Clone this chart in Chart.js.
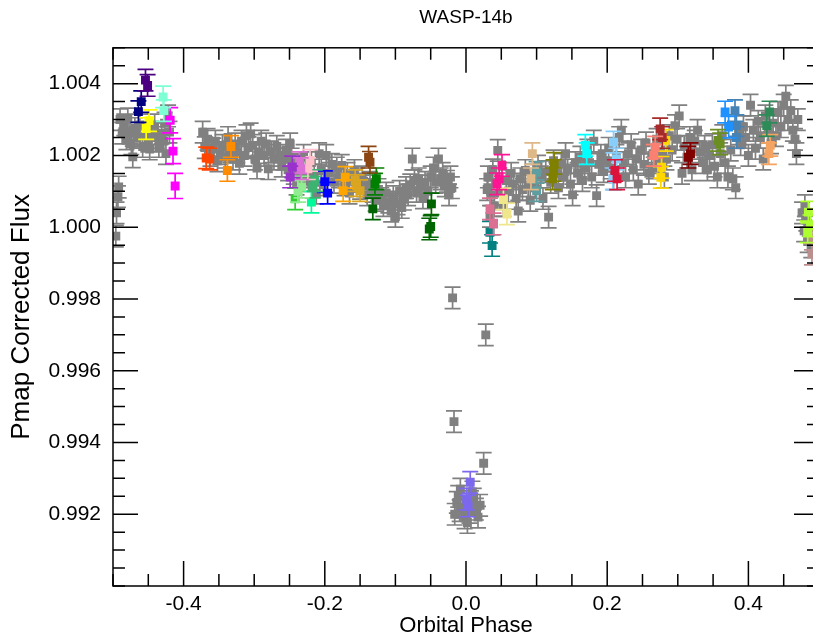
<!DOCTYPE html>
<html lang="en">
<head>
  <meta charset="UTF-8" />
  <title>WASP-14b</title>
  <script src="https://cdn.jsdelivr.net/npm/chart.js"></script>
  <style>
    html, body { margin: 0; padding: 0; background: #fff; overflow: hidden; }
    #wrap { width: 813px; height: 640px; overflow: hidden; }
    canvas { display: block; }
  </style>
</head>
<body>
  <div id="wrap"><canvas id="phaseCurve" width="830" height="640"></canvas></div>

  <script>
    // Grey points: every visit, binned
    const greyPhase = [
      -0.496, -0.495, -0.493, -0.492,
      -0.490, -0.487, -0.484, -0.481, -0.479, -0.476, -0.474, -0.472, -0.469, -0.466, -0.462, -0.458,
      -0.455, -0.450, -0.448, -0.445, -0.441, -0.438, -0.435, -0.431, -0.428, -0.427, -0.425, -0.422, -0.420,
      -0.373, -0.370, -0.366, -0.362, -0.358, -0.355, -0.352, -0.348, -0.345, -0.341, -0.337, -0.334, -0.330,
      -0.327, -0.324, -0.321, -0.318, -0.314, -0.311, -0.308, -0.305, -0.302, -0.299, -0.296, -0.293, -0.290,
      -0.286, -0.283, -0.280, -0.276, -0.272, -0.268, -0.264, -0.261, -0.258, -0.255, -0.252,
      -0.249, -0.247, -0.244, -0.240, -0.237, -0.233, -0.230, -0.227, -0.223, -0.219, -0.215, -0.212, -0.208,
      -0.205, -0.202, -0.198, -0.194, -0.190, -0.187, -0.183, -0.180, -0.176, -0.172, -0.168, -0.165, -0.161,
      -0.158, -0.154, -0.150,
      -0.147, -0.144, -0.140, -0.136, -0.132, -0.128, -0.124, -0.120, -0.117, -0.113, -0.110, -0.106, -0.103,
      -0.100, -0.097, -0.094, -0.091, -0.088, -0.085, -0.082,
      -0.079, -0.076, -0.073, -0.070, -0.067, -0.064, -0.061, -0.058, -0.054, -0.050, -0.046, -0.043, -0.039,
      -0.036, -0.033, -0.030, -0.027, -0.024, -0.022, -0.020,
      -0.019, -0.017, 0.028, 0.025,
      -0.016, -0.013, -0.011, -0.009, -0.008, -0.005, -0.002, 0.002, 0.005, 0.007, 0.009, 0.011, 0.014, 0.017, 0.020,
      0.030, 0.031, 0.034, 0.036, 0.038, 0.040, 0.042, 0.045, 0.048, 0.053, 0.057, 0.060, 0.064, 0.067, 0.071,
      0.074, 0.077, 0.080, 0.084, 0.088, 0.091, 0.095, 0.098, 0.102, 0.106, 0.109, 0.113, 0.117, 0.120, 0.124,
      0.128, 0.131, 0.135, 0.138, 0.141, 0.144, 0.148, 0.151, 0.155, 0.158, 0.162, 0.165, 0.168, 0.172, 0.175,
      0.178, 0.181, 0.185, 0.188, 0.191, 0.195, 0.198, 0.202, 0.205, 0.209, 0.213, 0.217, 0.220, 0.223, 0.226,
      0.230, 0.234, 0.237, 0.241, 0.244, 0.248, 0.252, 0.255, 0.259, 0.263, 0.266, 0.270, 0.273, 0.277, 0.281,
      0.284, 0.288, 0.292, 0.296, 0.299, 0.302, 0.306, 0.309, 0.313, 0.317, 0.320, 0.324, 0.328, 0.331, 0.335,
      0.338, 0.342, 0.345, 0.349, 0.352, 0.356, 0.360, 0.363, 0.367, 0.371, 0.375, 0.378, 0.382, 0.386, 0.389,
      0.393, 0.396, 0.400, 0.403, 0.407, 0.410, 0.414, 0.417, 0.421, 0.424, 0.428, 0.432, 0.435, 0.439, 0.442,
      0.446, 0.450, 0.453, 0.456, 0.460, 0.463, 0.466, 0.468, 0.470,
      0.476, 0.479, 0.480, 0.482, 0.484, 0.487, 0.489
    ];
    const greyFlux = [
      0.99975, 1.00040, 1.00085, 1.00112,
      1.00300, 1.00262, 1.00285, 1.00246, 1.00302, 1.00262, 1.00232, 1.00196, 1.00275, 1.00250, 1.00285, 1.00225,
      1.00260, 1.00240, 1.00218, 1.00260, 1.00285, 1.00250, 1.00225, 1.00262, 1.00240, 1.00290, 1.00205, 1.00310, 1.00265,
      1.00265, 1.00222, 1.00245, 1.00200, 1.00218, 1.00240, 1.00185, 1.00205, 1.00228, 1.00195, 1.00250, 1.00210, 1.00190,
      1.00232, 1.00210, 1.00178, 1.00240, 1.00200, 1.00255, 1.00222, 1.00260, 1.00228, 1.00190, 1.00165, 1.00208, 1.00240,
      1.00200, 1.00232, 1.00163, 1.00210, 1.00190, 1.00225, 1.00200, 1.00170, 1.00190, 1.00215, 1.00160,
      1.00232, 1.00190, 1.00150, 1.00120, 1.00175, 1.00140, 1.00200, 1.00155, 1.00130, 1.00180, 1.00145, 1.00095, 1.00205,
      1.00160, 1.00118, 1.00200, 1.00150, 1.00175, 1.00125, 1.00165, 1.00140, 1.00172, 1.00118, 1.00150, 1.00095, 1.00128,
      1.00158, 1.00135, 1.00108,
      1.00140, 1.00115, 1.00090, 1.00125, 1.00100, 1.00075, 1.00105, 1.00080, 1.00060, 1.00095, 1.00070, 1.00045, 1.00085,
      1.00030, 1.00065, 1.00100, 1.00055, 1.00078, 1.00110, 1.00090,
      1.00118, 1.00190, 1.00130, 1.00100, 1.00135, 1.00115, 1.00082, 1.00125, 1.00100, 1.00140, 1.00165, 1.00125, 1.00190,
      1.00135, 1.00150, 1.00115, 1.00128, 1.00090, 1.00140, 1.00110,
      0.99803, 0.99458, 0.99700, 0.99342,
      0.99200, 0.99233, 0.99250, 0.99210, 0.99270, 0.99220, 0.99190, 0.99177, 0.99205, 0.99235, 0.99262, 0.99242, 0.99214, 0.99192, 0.99225,
      1.00105, 1.00140, 1.00030, 1.00090, 1.00160, 1.00060, 1.00120, 1.00214, 1.00095, 1.00060, 1.00130, 1.00100, 1.00150, 1.00120, 1.00080,
      1.00045, 1.00135, 1.00105, 1.00158, 1.00115, 1.00075, 1.00145, 1.00110, 1.00170, 1.00140, 1.00080, 1.00155, 1.00028, 1.00125, 1.00185,
      1.00150, 1.00110, 1.00175, 1.00140, 1.00205, 1.00160, 1.00120, 1.00090, 1.00180, 1.00150, 1.00195, 1.00130, 1.00165, 1.00215, 1.00180,
      1.00140, 1.00240, 1.00088, 1.00175, 1.00200, 1.00155, 1.00185, 1.00220, 1.00165, 1.00135, 1.00200, 1.00250, 1.00270, 1.00180, 1.00140,
      1.00205, 1.00230, 1.00160, 1.00190, 1.00120, 1.00215, 1.00175, 1.00235, 1.00150, 1.00200, 1.00165, 1.00245, 1.00180, 1.00210, 1.00140,
      1.00190, 1.00255, 1.00215, 1.00283, 1.00245, 1.00310, 1.00150, 1.00225, 1.00195, 1.00250, 1.00160, 1.00240, 1.00270, 1.00210, 1.00180,
      1.00225, 1.00160, 1.00200, 1.00230, 1.00170, 1.00140, 1.00205, 1.00255, 1.00180, 1.00140, 1.00215, 1.00135, 1.00110, 1.00260, 1.00230,
      1.00280, 1.00250, 1.00200, 1.00340, 1.00270, 1.00220, 1.00295, 1.00250, 1.00190, 1.00310, 1.00265, 1.00235, 1.00290, 1.00255, 1.00320,
      1.00280, 1.00340, 1.00365, 1.00300, 1.00325, 1.00270, 1.00245, 1.00205, 1.00300,
      1.00040, 0.99990, 1.00060, 1.00020, 0.99960, 1.00005, 0.99945
    ];
    const greyErr = 0.0003;

    // Coloured points: one entry per visit
    const visitPhase = [
      [-0.454, -0.451], [-0.460, -0.464], [-0.429, -0.428], [-0.449, -0.453], [-0.419, -0.415, -0.412],
      [-0.368, -0.363], [-0.333, -0.338], [-0.246, -0.249], [-0.234, -0.236], [-0.221, -0.224],
      [-0.233, -0.238], [-0.242], [-0.217, -0.214], [-0.219], [-0.200, -0.196],
      [-0.171, -0.174], [-0.157, -0.155, -0.150], [-0.138, -0.136], [-0.127, -0.129], [-0.132, -0.049, -0.052, -0.050],
      [0.006, 0.001, 0.003], [0.034, 0.039], [0.034, 0.037], [0.051, 0.047, 0.044], [0.053, 0.058],
      [0.094, 0.092], [0.100, 0.100], [0.124, 0.123, 0.125], [0.169, 0.171], [0.211, 0.214],
      [0.209, 0.213, 0.208], [0.268, 0.266], [0.275, 0.278], [0.283, 0.277, 0.276], [0.315, 0.318],
      [0.357, 0.360], [0.367, 0.372], [0.381, 0.383, 0.383], [0.430, 0.426], [0.431, 0.429],
      [0.485, 0.488, 0.484], [0.490, 0.490]
    ];
    const visitFlux = [
      [1.00410, 1.00395], [1.00350, 1.00322], [1.00363, 1.00325], [1.00297, 1.00275], [1.00298, 1.00212, 1.00115],
      [1.00193, 1.00190], [1.00225, 1.00158], [1.00168, 1.00140], [1.00163, 1.00180], [1.00186, 1.00163],
      [1.00112, 1.00100], [1.00079], [1.00112, 1.00130], [1.00070], [1.00127, 1.00095],
      [1.00139, 1.00102], [1.00130, 1.00116, 1.00102], [1.00195, 1.00181], [1.00135, 1.00120], [1.00051, 1.00065, 0.99995, 1.00002],
      [0.99289, 0.99242, 0.99223], [1.00051, 1.00009], [0.99986, 0.99949], [1.00172, 1.00135, 1.00121], [1.00079, 1.00037],
      [1.00205, 1.00135], [1.00153, 1.00102], [1.00158, 1.00135, 1.00178], [1.00228, 1.00205], [1.00158, 1.00135],
      [1.00237, 1.00190, 1.00135], [1.00223, 1.00200], [1.00274, 1.00250], [1.00242, 1.00167, 1.00139], [1.00195, 1.00205],
      [1.00242, 1.00232], [1.00321, 1.00279], [1.00325, 1.00283, 1.00250], [1.00321, 1.00283], [1.00228, 1.00205],
      [1.00042, 1.00004, 0.99987], [0.99967, 0.99925]
    ];
    const visitErr = [
      0.0003, 0.0003, 0.0003, 0.0003, 0.00035,
      0.0003, 0.0003, 0.0003, 0.0003, 0.0003,
      0.0003, 0.0003, 0.0003, 0.0003, 0.0003,
      0.0003, 0.0003, 0.0003, 0.0003, 0.0003,
      0.0003, 0.0003, 0.0003, 0.0003, 0.0003,
      0.0003, 0.0003, 0.0003, 0.0003, 0.0003,
      0.0003, 0.0003, 0.0003, 0.0003, 0.0003,
      0.0003, 0.0003, 0.0003, 0.0003, 0.0003,
      0.0003, 0.0003
    ];

    const xTickLabels = [-0.4, -0.2, 0.0, 0.2, 0.4];
    const yTickLabels = [0.992, 0.994, 0.996, 0.998, 1.000, 1.002, 1.004];

    // styles
    const visitColors = [
      '#4B0082', '#000080', '#7FFFD4', '#FFFF00', '#FF00FF',
      '#FF4500', '#FF8C00', '#9932CC', '#DA70D6', '#FFC0CB',
      '#90EE90', '#32CD32', '#3CB371', '#00FA9A', '#0000FF',
      '#FFA500', '#DAA520', '#8B4513', '#008000', '#006400',
      '#7B68EE', '#DB7093', '#008080', '#FF1493', '#F0E68C',
      '#DEB887', '#5F9EA0', '#808000', '#00FFFF', '#DC143C',
      '#87CEFA', '#FA8072', '#A52A2A', '#FFD700', '#800000',
      '#6B8E23', '#1E90FF', '#4682B4', '#2E8B57', '#F4A460',
      '#ADFF2F', '#BC8F8F'
    ];
    const GREY = '#808080';
    const FONT = "'Liberation Sans', Arial, Helvetica, sans-serif";

    // grey goes underneath (higher order is drawn first)
    const datasets = [{
      label: 'all',
      order: 1,
      data: greyPhase.map((x, i) => ({ x, y: greyFlux[i], err: greyErr })),
      backgroundColor: GREY
    }];
    visitPhase.forEach((ph, k) => {
      datasets.push({
        label: 'visit ' + (k + 1),
        order: 0,
        data: ph.map((x, i) => ({ x, y: visitFlux[k][i], err: visitErr[k] })),
        backgroundColor: visitColors[k]
      });
    });

    // vertical error bars with caps, drawn under each dataset's squares
    const errorBars = {
      id: 'errorBars',
      beforeDatasetDraw(chart, args) {
        const { ctx, chartArea: a, scales: { y } } = chart;
        const ds = chart.data.datasets[args.index];
        ctx.save();
        ctx.beginPath();
        ctx.rect(a.left, a.top, a.right - a.left, a.bottom - a.top);
        ctx.clip();
        ctx.strokeStyle = ds.backgroundColor;
        ctx.lineWidth = 1.7;
        args.meta.data.forEach((pt, i) => {
          const d = ds.data[i];
          const top = y.getPixelForValue(d.y + d.err);
          const bot = y.getPixelForValue(d.y - d.err);
          ctx.beginPath();
          ctx.moveTo(pt.x, top); ctx.lineTo(pt.x, bot);
          ctx.moveTo(pt.x - 8, top); ctx.lineTo(pt.x + 8, top);
          ctx.moveTo(pt.x - 8, bot); ctx.lineTo(pt.x + 8, bot);
          ctx.stroke();
        });
        ctx.restore();
      }
    };

    // box and inward ticks on all four sides
    const frame = {
      id: 'frame',
      afterDatasetsDraw(chart) {
        const { ctx, chartArea: a, scales: { x, y } } = chart;
        ctx.save();
        ctx.strokeStyle = '#000';
        ctx.lineWidth = 1.5;
        ctx.strokeRect(a.left, a.top, a.right - a.left, a.bottom - a.top);
        ctx.beginPath();
        for (let i = -10; i <= 10; i++) {
          const px = x.getPixelForValue(i * 0.05);
          const len = (i % 4 === 0) ? 25 : 12;
          ctx.moveTo(px, a.bottom); ctx.lineTo(px, a.bottom - len);
          ctx.moveTo(px, a.top); ctx.lineTo(px, a.top + len);
        }
        for (let j = 0; j <= 30; j++) {
          const py = y.getPixelForValue(0.990 + j * 0.0005);
          const len = (j % 4 === 0 && j > 0 && j < 30) ? 25 : 12;
          ctx.moveTo(a.left, py); ctx.lineTo(a.left + len, py);
          ctx.moveTo(a.right, py); ctx.lineTo(a.right - len, py);
        }
        ctx.stroke();
        ctx.restore();
      }
    };

    new Chart(document.getElementById('phaseCurve'), {
      type: 'scatter',
      data: { datasets },
      options: {
        responsive: false,
        animation: false,
        layout: { padding: { left: 0, right: 11, top: 0, bottom: 0 } },
        elements: { point: { pointStyle: 'rect', radius: 6.3, borderWidth: 0, hoverRadius: 6.3 } },
        plugins: {
          legend: { display: false },
          tooltip: { enabled: false },
          title: {
            display: true,
            text: 'WASP-14b',
            fullSize: false,
            color: '#000',
            font: { family: FONT, size: 19, weight: 'normal' },
            padding: { top: 6, bottom: 19 }
          }
        },
        scales: {
          x: {
            type: 'linear', min: -0.5, max: 0.5,
            grid: { display: false, drawTicks: false },
            border: { display: false },
            afterBuildTicks: s => { s.ticks = xTickLabels.map(v => ({ value: v })); },
            afterFit: s => { s.height = 54; },
            ticks: {
              autoSkip: false, maxRotation: 0, padding: 6, color: '#000',
              font: { family: FONT, size: 21 },
              callback: v => v.toFixed(1)
            },
            title: {
              display: true, text: 'Orbital Phase', color: '#000',
              font: { family: FONT, size: 22 }, padding: { top: 0, bottom: 1 }
            }
          },
          y: {
            type: 'linear', min: 0.990, max: 1.005,
            grid: { display: false, drawTicks: false },
            border: { display: false },
            afterBuildTicks: s => { s.ticks = yTickLabels.map(v => ({ value: v })); },
            afterFit: s => { s.width = 113; },
            ticks: {
              autoSkip: false, padding: 12, color: '#000',
              font: { family: FONT, size: 21 },
              callback: v => v.toFixed(3)
            },
            title: {
              display: true, text: 'Pmap Corrected Flux', color: '#000',
              font: { family: FONT, size: 26 }, padding: { top: 6, bottom: 0 }
            }
          }
        }
      },
      plugins: [errorBars, frame]
    });
  </script>
</body>
</html>
